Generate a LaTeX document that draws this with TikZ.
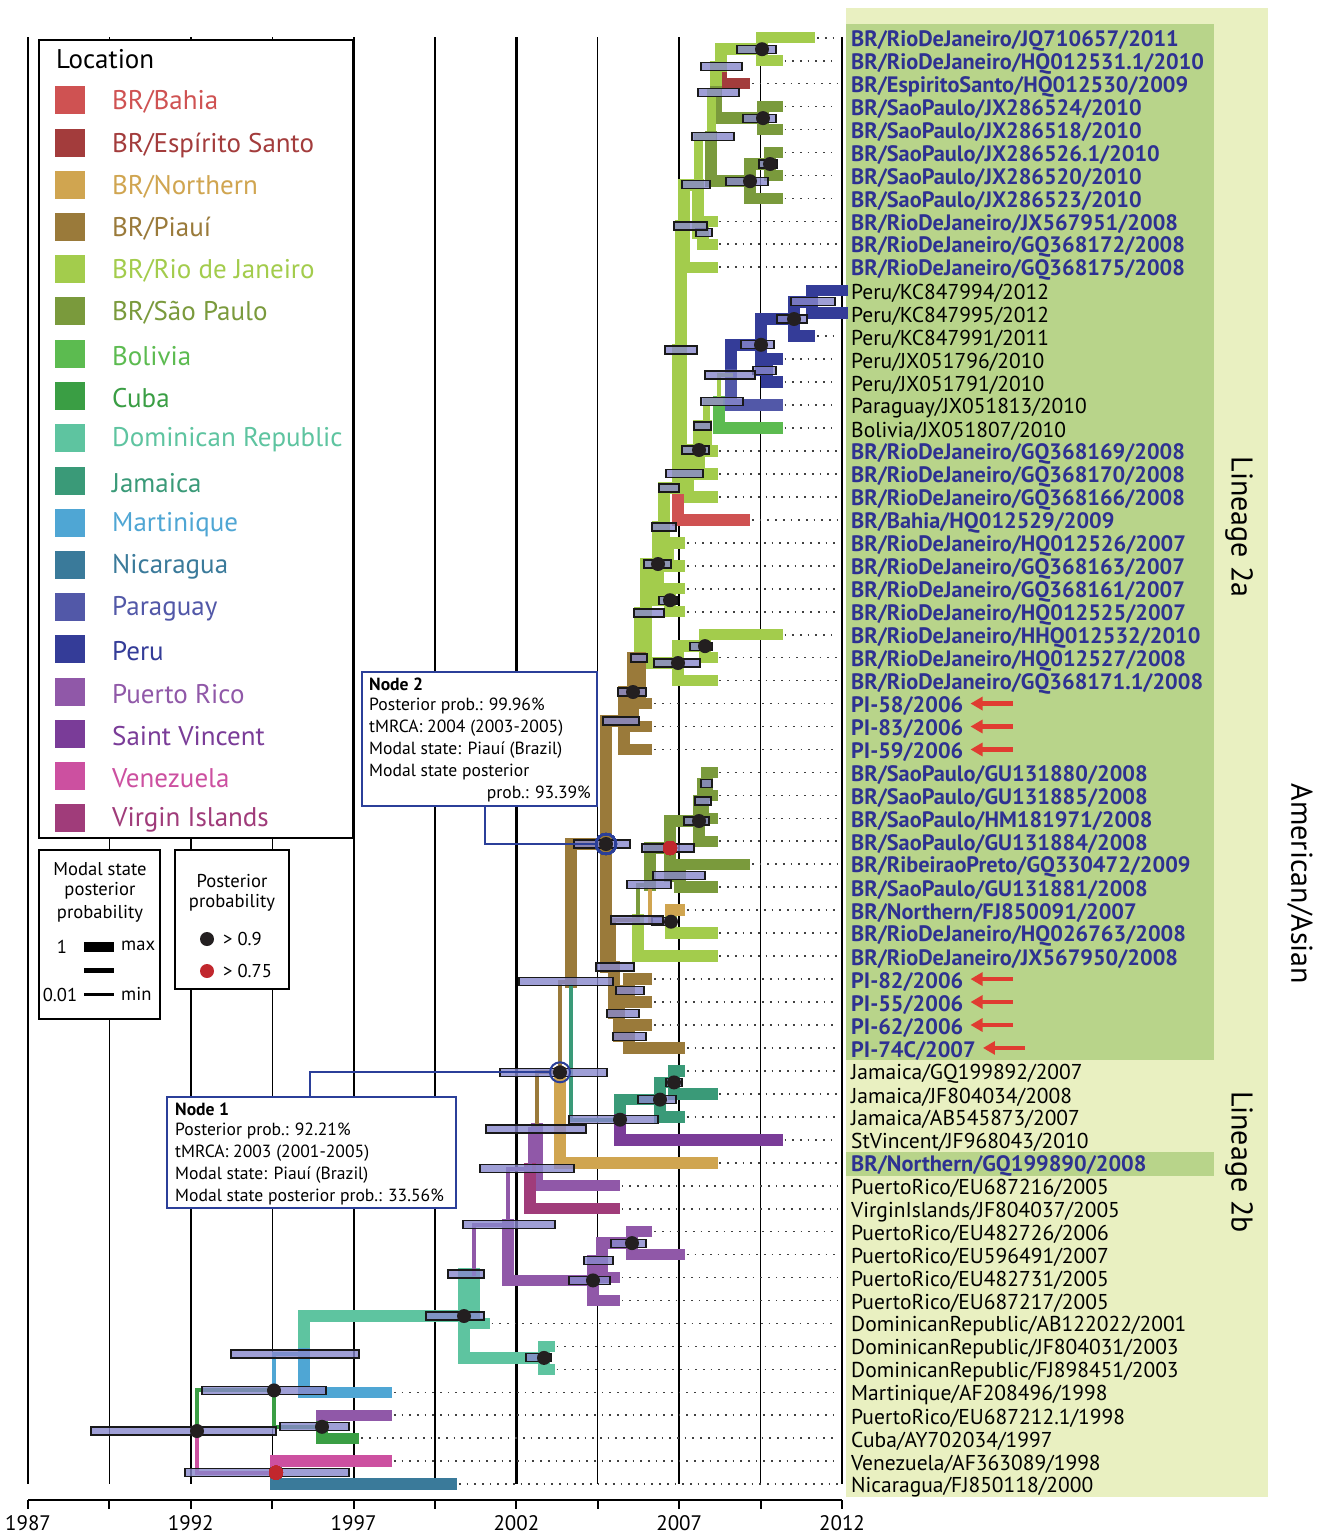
\documentclass[tikz,border=0pt]{standalone}
\usepackage{fontspec}
\setmainfont{PT Sans}
\usetikzlibrary{arrows.meta}
\definecolor{cbah}{HTML}{CF5252}
\definecolor{cesp}{HTML}{A33C3C}
\definecolor{cnor}{HTML}{D0A550}
\definecolor{cpia}{HTML}{9A7A3A}
\definecolor{clg}{HTML}{A3CC4C}
\definecolor{csp}{HTML}{7A9A3C}
\definecolor{cbol}{HTML}{5CBB50}
\definecolor{ccub}{HTML}{3A9E44}
\definecolor{cdr}{HTML}{5EC4A0}
\definecolor{cjam}{HTML}{3A9A78}
\definecolor{cmar}{HTML}{4FA6D4}
\definecolor{cnic}{HTML}{3A7A9A}
\definecolor{cpar}{HTML}{5258A8}
\definecolor{cper}{HTML}{343C98}
\definecolor{cpr}{HTML}{9058A8}
\definecolor{csv}{HTML}{7A3C98}
\definecolor{cven}{HTML}{CC50A0}
\definecolor{cvi}{HTML}{A03C7A}
\definecolor{cblue}{HTML}{2E3192}
\definecolor{cbox}{HTML}{2B3F99}
\definecolor{cbgl}{HTML}{E9F0C1}
\definecolor{cbgd}{HTML}{B8D48A}
\definecolor{chpd}{HTML}{8888CC}
\definecolor{carr}{HTML}{E03C31}
\definecolor{cdot}{HTML}{231F20}
\definecolor{cred}{HTML}{C1272D}
\newcommand\fLab{\fontsize{21.5}{24}\selectfont}
\newcommand\fLabB{\fontsize{22.3}{24}\selectfont}
\newcommand\fLeg{\fontsize{27}{30}\selectfont}
\newcommand\fSm{\fontsize{18.6}{21}\selectfont}
\newcommand\fBx{\fontsize{17.6}{20}\selectfont}
\newcommand\fAx{\fontsize{21}{24}\selectfont}
\newcommand\fBig{\fontsize{30}{34}\selectfont}
\newcommand\wK{11.5pt}
\newcommand\wM{7pt}
\newcommand\wN{4pt}
\newcommand\brn[4]{\draw[brl, draw=#3, line width=#4] (#1) |- (#2);}
\newcommand\hpdr[3]{\draw[hpdbar] (#1,#3-4) rectangle (#2,#3+4);}
\newcommand\bdot[1]{\fill[cdot] (#1) circle (7pt);}
\newcommand\rdot[1]{\fill[cred] (#1) circle (7pt);}
\tikzset{
  brl/.style={line cap=rect, line join=miter},
  leader/.style={draw=black!75, line width=1.7pt, dash pattern=on 1.7pt off 6pt},
  hpdbar/.style={fill=chpd, fill opacity=0.8, draw=black!90, line width=1.1pt},
  lbr/.style={anchor=west, inner sep=0pt, yshift=-3pt, font=\fLabB\bfseries, text=cblue},
  loth/.style={anchor=west, inner sep=0pt, yshift=-3pt, font=\fLab},
  legt/.style={anchor=west, inner sep=0pt, yshift=-2pt, font=\fLeg},
  smt/.style={inner sep=0pt, font=\fSm},
  bxt/.style={anchor=west, inner sep=0pt, font=\fBx},
  piarrow/.style={draw=carr, line width=4.5pt, -{Triangle[length=12pt,width=13pt]}},
  boxline/.style={draw=cbox, line width=2pt},
}
\begin{document}
\begin{tikzpicture}[x=1pt,y=-1pt]
\useasboundingbox (0,0) rectangle (1321,1537);
\fill[white] (0,0) rectangle (1321,1537);
% label backgrounds
\fill[cbgl] (846,8) rectangle (1268,1497);
\fill[cbgd] (846,24) rectangle (1214,1060);
\fill[cbgd] (846,1152) rectangle (1214,1176);
% grid
\foreach \gx/\gw in {28/2.2,109.4/1.1,190.8/2.2,272.2/1.1,353.6/2.2,435/1.1,516.4/2.2,597.8/1.1,679.2/2.2,760.6/1.1,842/2.8}
  \draw[line width=\gw pt] (\gx,37) -- (\gx,1484);
% axis
\draw[line width=2.5pt] (28,1500) -- (842,1500);
\foreach \k in {0,...,10} \draw[line width=2pt] (28+\k*81.4,1500) -- (28+\k*81.4,1509);
\foreach \k/\lab in {0/1987,2/1992,4/1997,6/2002,8/2007,10/2012}
  \node[font=\fAx, inner sep=0pt] (ax\k) at (28+\k*81.4,1523) {\lab};
% legend boxes
\draw[line width=2pt, fill=white] (39,40) rectangle (353,838);
\node[legt, yshift=2pt] (legtitle) at (56,59) {Location};
\fill[cbah] (55,86) rectangle (85,114); \node[legt,text=cbah] (lg1) at (112,100) {BR/Bahia};
\fill[cesp] (55,129) rectangle (85,157); \node[legt,text=cesp] (lg2) at (112,143) {BR/Espírito Santo};
\fill[cnor] (55,171) rectangle (85,199); \node[legt,text=cnor] (lg3) at (112,185) {BR/Northern};
\fill[cpia] (55,213) rectangle (85,241); \node[legt,text=cpia] (lg4) at (112,227) {BR/Piauí};
\fill[clg] (55,255) rectangle (85,283); \node[legt,text=clg] (lg5) at (112,269) {BR/Rio de Janeiro};
\fill[csp] (55,297) rectangle (85,325); \node[legt,text=csp] (lg6) at (112,311) {BR/São Paulo};
\fill[cbol] (55,340) rectangle (85,368); \node[legt,text=cbol] (lg7) at (112,354) {Bolivia};
\fill[ccub] (55,382) rectangle (85,410); \node[legt,text=ccub] (lg8) at (112,396) {Cuba};
\fill[cdr] (55,424) rectangle (85,452); \node[legt,text=cdr] (lg9) at (112,438) {Dominican Republic};
\fill[cjam] (55,467) rectangle (85,495); \node[legt,text=cjam] (lg10) at (112,481) {Jamaica};
\fill[cmar] (55,509) rectangle (85,537); \node[legt,text=cmar] (lg11) at (112,523) {Martinique};
\fill[cnic] (55,551) rectangle (85,579); \node[legt,text=cnic] (lg12) at (112,565) {Nicaragua};
\fill[cpar] (55,593) rectangle (85,621); \node[legt,text=cpar] (lg13) at (112,607) {Paraguay};
\fill[cper] (55,635) rectangle (85,663); \node[legt,text=cper] (lg14) at (112,649) {Peru};
\fill[cpr] (55,678) rectangle (85,706); \node[legt,text=cpr] (lg15) at (112,692) {Puerto Rico};
\fill[csv] (55,720) rectangle (85,748); \node[legt,text=csv] (lg16) at (112,734) {Saint Vincent};
\fill[cven] (55,762) rectangle (85,790); \node[legt,text=cven] (lg17) at (112,776) {Venezuela};
\fill[cvi] (55,804) rectangle (85,832); \node[legt,text=cvi] (lg18) at (112,818) {Virgin Islands};
% small legend 1
\draw[line width=2pt, fill=white] (39,850) rectangle (160,1019);
\node[smt] (m1) at (100,869) {Modal state};
\node[smt] (m2) at (100,891) {posterior};
\node[smt] (m3) at (100,914) {probability};
\node[smt] (m4) at (62,947) {1};
\fill[black] (84,942) rectangle (114,952);
\node[smt,anchor=west] (m5) at (121,946) {max};
\fill[black] (84,968) rectangle (114,973);
\node[smt] (m6) at (60,995) {0.01};
\fill[black] (84,993) rectangle (114,996);
\node[smt,anchor=west] (m7) at (121,994) {min};
% small legend 2
\draw[line width=2pt, fill=white] (175,850) rectangle (289,989);
\node[smt] (p1) at (232,881) {Posterior};
\node[smt] (p2) at (232,903) {probability};
\fill[cdot] (207,939) circle (7pt);
\node[smt,anchor=west] (p3) at (223,939) {> 0.9};
\fill[cred] (207,971) circle (7pt);
\node[smt,anchor=west] (p4) at (223,971) {> 0.75};
% tips
\foreach \i/\yr in {1/2011,2/2010,3/2009,4/2010,5/2010,6/2010,7/2010,8/2010,9/2008,10/2008,11/2008,12/2012,13/2012,14/2011,15/2010,16/2010,17/2010,18/2010,19/2008,20/2008,21/2008,22/2009,23/2007,24/2007,25/2007,26/2007,27/2010,28/2008,29/2008,30/2006,31/2006,32/2006,33/2008,34/2008,35/2008,36/2008,37/2009,38/2008,39/2007,40/2008,41/2008,42/2006,43/2006,44/2006,45/2007,46/2007,47/2008,48/2007,49/2010,50/2008,51/2005,52/2005,53/2006,54/2007,55/2005,56/2005,57/2001,58/2003,59/2003,60/1998,61/1998,62/1997,63/1998,64/2000}
  \coordinate (t\i) at ({28+(\yr-1987)*32.56},{37.7+(\i-1)*22.96});
\coordinate (xend) at (838,0);
\coordinate (labx) at (851,0);
\foreach \i in {1,...,64} \draw[leader] (t\i) -- (t\i -| xend);
% internal nodes
\coordinate (nA1) at (762,49.2);
\coordinate (nA) at (721,66.4);
\coordinate (nC) at (763,118.1);
\coordinate (nB) at (716,92.2);
\coordinate (nE) at (770,164.0);
\coordinate (nF) at (750,181.2);
\coordinate (nG) at (711,136.7);
\coordinate (nH) at (703,232.9);
\coordinate (nJ) at (698,184.8);
\coordinate (nK) at (684,226.0);
\coordinate (nM) at (812,301.8);
\coordinate (nN) at (794,319.0);
\coordinate (nR) at (767,370.6);
\coordinate (nO) at (761,344.8);
\coordinate (nP) at (731,375.0);
\coordinate (nS) at (719,401.5);
\coordinate (nT) at (706,426);
\coordinate (nU) at (699,450);
\coordinate (nV) at (688,473.5);
\coordinate (nL) at (681,350);
\coordinate (nW) at (678,488);
\coordinate (nX) at (668,554.3);
\coordinate (nN23) at (664,527);
\coordinate (nAB) at (670,600.2);
\coordinate (nAA) at (658,564);
\coordinate (nAD) at (705,646.1);
\coordinate (nAE) at (678,663);
\coordinate (nAC) at (646,613);
\coordinate (nAF) at (640,658);
\coordinate (nAG) at (633,692);
\coordinate (nAH) at (624,721);
\coordinate (nAI1) at (707,783.9);
\coordinate (nAI2) at (703,801);
\coordinate (nAI3) at (699,821);
\coordinate (nAI5) at (680,875.8);
\coordinate (nAI4) at (670,848);
\coordinate (nAI7) at (671,921.7);
\coordinate (nAI6) at (650,884.8);
\coordinate (nAI8) at (638,920);
\coordinate (nB1) at (629,990.5);
\coordinate (nB3) at (629,1036.5);
\coordinate (nB2) at (619,1013.5);
\coordinate (nAI9) at (614,967);
\coordinate (nN2) at (606,844);
\coordinate (nJ1) at (674,1082.4);
\coordinate (nJ2) at (660,1099.6);
\coordinate (nJ3) at (620,1119.7);
\coordinate (nAJ) at (571,981.9);
\coordinate (nN1) at (560,1072.3);
\coordinate (nAK) at (537,1129);
\coordinate (nAL) at (530,1168.9);
\coordinate (nAO) at (632,1243.1);
\coordinate (nAP) at (602,1260.3);
\coordinate (nAN) at (593,1280.4);
\coordinate (nAM) at (508,1224.6);
\coordinate (nAQ) at (474,1274);
\coordinate (nAT) at (544,1357.9);
\coordinate (nAR) at (464,1316);
\coordinate (nAU) at (304,1354);
\coordinate (nAW) at (322,1426.8);
\coordinate (nAV) at (274,1390.4);
\coordinate (nAY) at (276,1472.7);
\coordinate (nAX) at (197,1431);
% branches (thick)
\brn{nA1}{t1}{clg}{\wK} \brn{nA1}{t2}{clg}{\wK}
\brn{nA}{nA1}{clg}{\wK} \brn{nA}{t3}{cesp}{\wK}
\brn{nC}{t4}{csp}{\wK} \brn{nC}{t5}{csp}{\wK}
\brn{nB}{nA}{clg}{\wK} \brn{nB}{nC}{csp}{\wK}
\brn{nE}{t6}{csp}{\wK} \brn{nE}{t7}{csp}{\wK}
\brn{nF}{nE}{csp}{\wK} \brn{nF}{t8}{csp}{\wK}
\brn{nG}{nB}{clg}{9pt} \brn{nG}{nF}{csp}{\wK}
\brn{nH}{t9}{clg}{\wK} \brn{nH}{t10}{clg}{\wK}
\brn{nJ}{nG}{clg}{9pt} \brn{nJ}{nH}{clg}{\wK}
\brn{nK}{nJ}{clg}{\wK} \brn{nK}{t11}{clg}{\wK}
\brn{nM}{t12}{cper}{\wK} \brn{nM}{t13}{cper}{\wK}
\brn{nN}{nM}{cper}{\wK} \brn{nN}{t14}{cper}{\wK}
\brn{nR}{t15}{cper}{\wK} \brn{nR}{t16}{cper}{\wK}
\brn{nO}{nN}{cper}{\wK} \brn{nO}{nR}{cper}{\wK}
\brn{nP}{nO}{cper}{\wK} \brn{nP}{t17}{cpar}{\wK}
\brn{nS}{t18}{cbol}{\wK}
\brn{nT}{t19}{clg}{\wK}
\brn{nU}{nT}{clg}{\wK} \brn{nU}{t20}{clg}{\wK}
\brn{nV}{nU}{clg}{\wK} \brn{nV}{t21}{clg}{\wK}
\brn{nL}{nK}{clg}{\wK} \brn{nL}{nV}{clg}{\wK}
\brn{nW}{nL}{clg}{\wK} \brn{nW}{t22}{cbah}{\wK}
\brn{nX}{t23}{clg}{\wK} \brn{nX}{t24}{clg}{\wK}
\brn{nN23}{nW}{clg}{\wK} \brn{nN23}{nX}{clg}{\wK}
\brn{nAB}{t25}{clg}{\wK} \brn{nAB}{t26}{clg}{\wK}
\brn{nAA}{nN23}{clg}{\wK} \brn{nAA}{nAB}{clg}{\wK}
\brn{nAD}{t27}{clg}{\wK} \brn{nAD}{t28}{clg}{\wK}
\brn{nAE}{nAD}{clg}{\wK} \brn{nAE}{t29}{clg}{\wK}
\brn{nAC}{nAA}{clg}{\wK} \brn{nAC}{nAE}{clg}{\wK}
\brn{nAF}{nAC}{clg}{\wK} \brn{nAF}{t30}{cpia}{\wK}
\brn{nAG}{nAF}{cpia}{\wK} \brn{nAG}{t31}{cpia}{\wK}
\brn{nAH}{nAG}{cpia}{\wK} \brn{nAH}{t32}{cpia}{\wK}
\brn{nAI1}{t33}{csp}{\wK} \brn{nAI1}{t34}{csp}{\wK}
\brn{nAI2}{nAI1}{csp}{\wK} \brn{nAI2}{t35}{csp}{\wK}
\brn{nAI3}{nAI2}{csp}{\wK} \brn{nAI3}{t36}{csp}{\wK}
\brn{nAI5}{t37}{csp}{\wK} \brn{nAI5}{t38}{csp}{\wK}
\brn{nAI4}{nAI3}{csp}{\wK} \brn{nAI4}{nAI5}{csp}{\wK}
\brn{nAI7}{t39}{cnor}{\wK} \brn{nAI7}{t40}{clg}{\wK}
\brn{nAI6}{nAI4}{csp}{\wK}
\brn{nAI8}{t41}{clg}{\wK}
\brn{nB1}{t42}{cpia}{\wK} \brn{nB1}{t43}{cpia}{\wK}
\brn{nB3}{t44}{cpia}{\wK} \brn{nB3}{t45}{cpia}{\wK}
\brn{nB2}{nB1}{cpia}{\wK} \brn{nB2}{nB3}{cpia}{\wK}
\brn{nAI9}{nB2}{cpia}{\wK}
\brn{nN2}{nAH}{cpia}{\wK} \brn{nN2}{nAI9}{cpia}{\wK}
\brn{nJ1}{t46}{cjam}{\wK} \brn{nJ1}{t47}{cjam}{\wK}
\brn{nJ2}{nJ1}{cjam}{\wK} \brn{nJ2}{t48}{cjam}{\wK}
\brn{nJ3}{nJ2}{cjam}{\wK} \brn{nJ3}{t49}{csv}{\wK}
\brn{nAJ}{nN2}{cpia}{\wK}
\brn{nN1}{t50}{cnor}{\wK}
\brn{nAK}{t51}{cpr}{\wK}
\brn{nAL}{t52}{cvi}{\wK}
\brn{nAO}{t53}{cpr}{\wK} \brn{nAO}{t54}{cpr}{\wK}
\brn{nAP}{nAO}{cpr}{\wK} \brn{nAP}{t55}{cpr}{\wK}
\brn{nAN}{nAP}{cpr}{\wK} \brn{nAN}{t56}{cpr}{\wK}
\brn{nAM}{nAN}{cpr}{\wK}
\brn{nAQ}{t57}{cdr}{\wK}
\brn{nAT}{t58}{cdr}{\wK} \brn{nAT}{t59}{cdr}{\wK}
\brn{nAR}{nAQ}{cdr}{\wK} \brn{nAR}{nAT}{cdr}{\wK}
\brn{nAU}{nAR}{cdr}{\wK} \brn{nAU}{t60}{cmar}{\wK}
\brn{nAW}{t61}{cpr}{\wK} \brn{nAW}{t62}{ccub}{\wK}
\brn{nAY}{t63}{cven}{\wK} \brn{nAY}{t64}{cnic}{\wK}
% branches (medium / thin)
\brn{nT}{nS}{clg}{\wM}
\brn{nS}{nP}{clg}{\wN}
\brn{nAI6}{nAI7}{cnor}{\wN}
\brn{nAI8}{nAI6}{csp}{\wN}
\brn{nAI9}{nAI8}{cpia}{\wN}
\brn{nAJ}{nJ3}{cjam}{\wN}
\brn{nN1}{nAJ}{cpia}{\wN}
\brn{nAK}{nN1}{cpia}{\wN}
\brn{nAL}{nAK}{cpr}{\wN}
\brn{nAM}{nAL}{cpr}{\wN}
\brn{nAQ}{nAM}{cpr}{\wN}
\brn{nAV}{nAU}{cmar}{\wN} \brn{nAV}{nAW}{ccub}{\wN}
\brn{nAX}{nAV}{ccub}{\wN} \brn{nAX}{nAY}{cven}{\wN}
% HPD bars
\hpdr{737}{776}{49.2} \hpdr{701}{742}{66.4} \hpdr{743}{776}{118.1} \hpdr{698}{739}{92.2}
\hpdr{759}{777}{164} \hpdr{726}{768}{181.2} \hpdr{692}{734}{136.7} \hpdr{696}{712}{232.9}
\hpdr{682}{710}{184.8} \hpdr{674}{707}{226} \hpdr{791}{835}{301.8} \hpdr{777}{807}{319}
\hpdr{753}{776}{370.6} \hpdr{741}{774}{344.8} \hpdr{705}{755}{375} \hpdr{701}{743}{401.5}
\hpdr{694}{711}{426} \hpdr{682}{709}{450} \hpdr{666}{703}{473.5} \hpdr{665}{697}{350}
\hpdr{659}{679}{488} \hpdr{652}{676}{527} \hpdr{644}{671}{564} \hpdr{659}{677}{600.2}
\hpdr{690}{712}{646.1} \hpdr{654}{700}{663} \hpdr{634}{664}{613} \hpdr{631}{647}{658}
\hpdr{618}{646}{692} \hpdr{603}{639}{721} \hpdr{701}{712}{783.9} \hpdr{695}{711}{801}
\hpdr{684}{709}{821} \hpdr{653}{705}{875.8} \hpdr{642}{694}{848} \hpdr{652}{667}{921.7}
\hpdr{627}{671}{884.8} \hpdr{611}{663}{920} \hpdr{616}{644}{990.5} \hpdr{613}{646}{1036.5}
\hpdr{607}{639}{1013.5} \hpdr{596}{634}{967} \hpdr{574}{630}{844} \hpdr{666}{682}{1082.4}
\hpdr{638}{676}{1099.6} \hpdr{569}{658}{1119.7} \hpdr{519}{613}{981.9} \hpdr{500}{607}{1072.3}
\hpdr{486}{586}{1129} \hpdr{480}{574}{1168.9} \hpdr{611}{646}{1243.1} \hpdr{584}{613}{1260.3}
\hpdr{569}{610}{1280.4} \hpdr{463}{555}{1224.6} \hpdr{448}{484}{1274} \hpdr{526}{551}{1357.9}
\hpdr{426}{484}{1316} \hpdr{231}{359}{1354} \hpdr{280}{349}{1426.8} \hpdr{202}{326}{1390.4}
\hpdr{185}{349}{1472.7} \hpdr{91}{276}{1431}
% posterior dots
\foreach \n in {nA1,nC,nE,nF,nN,nO,nU,nAA,nAB,nAD,nAE,nAG,nAI3,nAI7,nN2,nJ1,nJ2,nJ3,nN1,nAO,nAN,nAR,nAT,nAW,nAV,nAX} \bdot{\n}
\rdot{nAI4} \rdot{nAY}
\draw[boxline] (nN2) circle (10pt);
\draw[boxline] (nN1) circle (10pt);
% node info boxes
\draw[boxline, fill=white] (362,672) rectangle (597,806);
\node[bxt, font=\fBx\bfseries] (b2a) at (369,684) {Node 2};
\node[bxt] (b2b) at (369,706) {Posterior prob.: 99.96\%};
\node[bxt] (b2c) at (369,728) {tMRCA: 2004 (2003-2005)};
\node[bxt] (b2d) at (369,750) {Modal state: Piauí (Brazil)};
\node[bxt] (b2e) at (369,772) {Modal state posterior};
\node[bxt, anchor=east] (b2f) at (591,794) {prob.: 93.39\%};
\coordinate (c2) at (485,806);
\draw[boxline] (c2) |- ([xshift=-10pt]nN2);
\draw[boxline, fill=white] (167,1097) rectangle (456,1208);
\node[bxt, font=\fBx\bfseries] (b1a) at (175,1109) {Node 1};
\node[bxt] (b1b) at (175,1131) {Posterior prob.: 92.21\%};
\node[bxt] (b1c) at (175,1153) {tMRCA: 2003 (2001-2005)};
\node[bxt] (b1d) at (175,1175) {Modal state: Piauí (Brazil)};
\node[bxt] (b1e) at (175,1197) {Modal state posterior prob.: 33.56\%};
\coordinate (c1) at (310,1097);
\draw[boxline] (c1) |- ([xshift=-10pt]nN1);
% tip labels
\node[lbr] (l1) at (t1 -| labx) {BR/RioDeJaneiro/JQ710657/2011};
\node[lbr] (l2) at (t2 -| labx) {BR/RioDeJaneiro/HQ012531.1/2010};
\node[lbr] (l3) at (t3 -| labx) {BR/EspiritoSanto/HQ012530/2009};
\node[lbr] (l4) at (t4 -| labx) {BR/SaoPaulo/JX286524/2010};
\node[lbr] (l5) at (t5 -| labx) {BR/SaoPaulo/JX286518/2010};
\node[lbr] (l6) at (t6 -| labx) {BR/SaoPaulo/JX286526.1/2010};
\node[lbr] (l7) at (t7 -| labx) {BR/SaoPaulo/JX286520/2010};
\node[lbr] (l8) at (t8 -| labx) {BR/SaoPaulo/JX286523/2010};
\node[lbr] (l9) at (t9 -| labx) {BR/RioDeJaneiro/JX567951/2008};
\node[lbr] (l10) at (t10 -| labx) {BR/RioDeJaneiro/GQ368172/2008};
\node[lbr] (l11) at (t11 -| labx) {BR/RioDeJaneiro/GQ368175/2008};
\node[loth] (l12) at (t12 -| labx) {Peru/KC847994/2012};
\node[loth] (l13) at (t13 -| labx) {Peru/KC847995/2012};
\node[loth] (l14) at (t14 -| labx) {Peru/KC847991/2011};
\node[loth] (l15) at (t15 -| labx) {Peru/JX051796/2010};
\node[loth] (l16) at (t16 -| labx) {Peru/JX051791/2010};
\node[loth] (l17) at (t17 -| labx) {Paraguay/JX051813/2010};
\node[loth] (l18) at (t18 -| labx) {Bolivia/JX051807/2010};
\node[lbr] (l19) at (t19 -| labx) {BR/RioDeJaneiro/GQ368169/2008};
\node[lbr] (l20) at (t20 -| labx) {BR/RioDeJaneiro/GQ368170/2008};
\node[lbr] (l21) at (t21 -| labx) {BR/RioDeJaneiro/GQ368166/2008};
\node[lbr] (l22) at (t22 -| labx) {BR/Bahia/HQ012529/2009};
\node[lbr] (l23) at (t23 -| labx) {BR/RioDeJaneiro/HQ012526/2007};
\node[lbr] (l24) at (t24 -| labx) {BR/RioDeJaneiro/GQ368163/2007};
\node[lbr] (l25) at (t25 -| labx) {BR/RioDeJaneiro/GQ368161/2007};
\node[lbr] (l26) at (t26 -| labx) {BR/RioDeJaneiro/HQ012525/2007};
\node[lbr] (l27) at (t27 -| labx) {BR/RioDeJaneiro/HHQ012532/2010};
\node[lbr] (l28) at (t28 -| labx) {BR/RioDeJaneiro/HQ012527/2008};
\node[lbr] (l29) at (t29 -| labx) {BR/RioDeJaneiro/GQ368171.1/2008};
\node[lbr] (l30) at (t30 -| labx) {PI-58/2006};
\node[lbr] (l31) at (t31 -| labx) {PI-83/2006};
\node[lbr] (l32) at (t32 -| labx) {PI-59/2006};
\node[lbr] (l33) at (t33 -| labx) {BR/SaoPaulo/GU131880/2008};
\node[lbr] (l34) at (t34 -| labx) {BR/SaoPaulo/GU131885/2008};
\node[lbr] (l35) at (t35 -| labx) {BR/SaoPaulo/HM181971/2008};
\node[lbr] (l36) at (t36 -| labx) {BR/SaoPaulo/GU131884/2008};
\node[lbr] (l37) at (t37 -| labx) {BR/RibeiraoPreto/GQ330472/2009};
\node[lbr] (l38) at (t38 -| labx) {BR/SaoPaulo/GU131881/2008};
\node[lbr] (l39) at (t39 -| labx) {BR/Northern/FJ850091/2007};
\node[lbr] (l40) at (t40 -| labx) {BR/RioDeJaneiro/HQ026763/2008};
\node[lbr] (l41) at (t41 -| labx) {BR/RioDeJaneiro/JX567950/2008};
\node[lbr] (l42) at (t42 -| labx) {PI-82/2006};
\node[lbr] (l43) at (t43 -| labx) {PI-55/2006};
\node[lbr] (l44) at (t44 -| labx) {PI-62/2006};
\node[lbr] (l45) at (t45 -| labx) {PI-74C/2007};
\node[loth] (l46) at (t46 -| labx) {Jamaica/GQ199892/2007};
\node[loth] (l47) at (t47 -| labx) {Jamaica/JF804034/2008};
\node[loth] (l48) at (t48 -| labx) {Jamaica/AB545873/2007};
\node[loth] (l49) at (t49 -| labx) {StVincent/JF968043/2010};
\node[lbr] (l50) at (t50 -| labx) {BR/Northern/GQ199890/2008};
\node[loth] (l51) at (t51 -| labx) {PuertoRico/EU687216/2005};
\node[loth] (l52) at (t52 -| labx) {VirginIslands/JF804037/2005};
\node[loth] (l53) at (t53 -| labx) {PuertoRico/EU482726/2006};
\node[loth] (l54) at (t54 -| labx) {PuertoRico/EU596491/2007};
\node[loth] (l55) at (t55 -| labx) {PuertoRico/EU482731/2005};
\node[loth] (l56) at (t56 -| labx) {PuertoRico/EU687217/2005};
\node[loth] (l57) at (t57 -| labx) {DominicanRepublic/AB122022/2001};
\node[loth] (l58) at (t58 -| labx) {DominicanRepublic/JF804031/2003};
\node[loth] (l59) at (t59 -| labx) {DominicanRepublic/FJ898451/2003};
\node[loth] (l60) at (t60 -| labx) {Martinique/AF208496/1998};
\node[loth] (l61) at (t61 -| labx) {PuertoRico/EU687212.1/1998};
\node[loth] (l62) at (t62 -| labx) {Cuba/AY702034/1997};
\node[loth] (l63) at (t63 -| labx) {Venezuela/AF363089/1998};
\node[loth] (l64) at (t64 -| labx) {Nicaragua/FJ850118/2000};
% arrows
\foreach \i in {30,31,32,42,43,44,45}
  \draw[piarrow] ([xshift=49pt,yshift=3pt]l\i.east) -- ([xshift=7pt,yshift=3pt]l\i.east);
% lineage labels
\node[rotate=-90, font=\fBig, inner sep=0pt] (lin2a) at (1239,527) {Lineage 2a};
\node[rotate=-90, font=\fBig, inner sep=0pt] (lin2b) at (1239,1162) {Lineage 2b};
\node[rotate=-90, font=\fBig, inner sep=0pt] (amas) at (1300,884) {American/Asian};
\end{tikzpicture}
\end{document}
